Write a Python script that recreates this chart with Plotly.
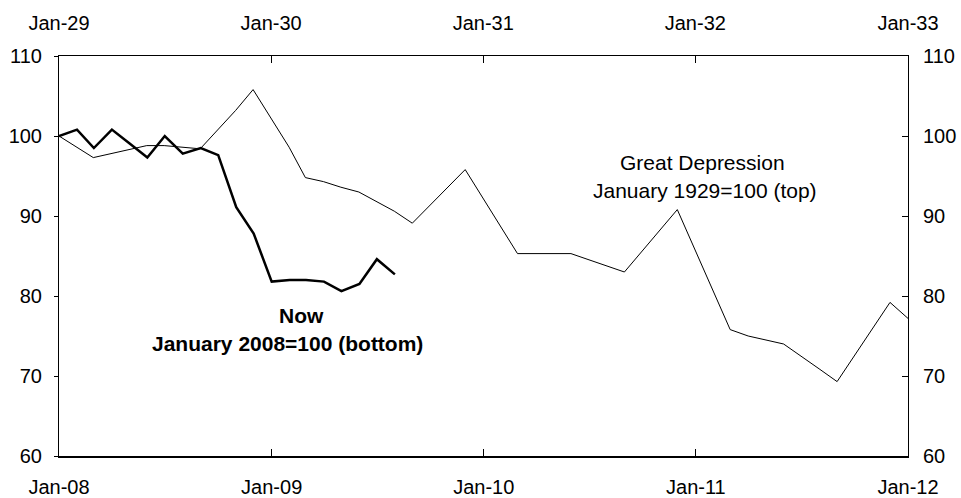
import plotly.graph_objects as go

# Great Depression series (top axis), January 1929 = 100
gd_dates = ["1929-01-01", "1929-03-01", "1929-06-01", "1929-07-01", "1929-09-01",
            "1929-11-01", "1929-12-01", "1930-02-01", "1930-03-01", "1930-04-01",
            "1930-05-01", "1930-06-01", "1930-08-01", "1930-09-01", "1930-12-01",
            "1931-03-01", "1931-06-01", "1931-09-01", "1931-12-01", "1932-02-01",
            "1932-03-01", "1932-04-01", "1932-06-01", "1932-08-01", "1932-09-01",
            "1932-12-01", "1933-01-01"]
gd_values = [100, 97.3, 98.8, 98.8, 98.4,
             103.2, 105.8, 98.6, 94.8, 94.3,
             93.6, 93.0, 90.6, 89.1, 95.8,
             85.3, 85.3, 83.0, 90.8, 80.7,
             75.8, 75.0, 74.0, 70.9, 69.3,
             79.2, 77.2]

# Current series (bottom axis), January 2008 = 100
now_dates = ["2008-01-01", "2008-02-01", "2008-03-01", "2008-04-01", "2008-05-01",
             "2008-06-01", "2008-07-01", "2008-08-01", "2008-09-01", "2008-10-01",
             "2008-11-01", "2008-12-01", "2009-01-01", "2009-02-01", "2009-03-01",
             "2009-04-01", "2009-05-01", "2009-06-01", "2009-07-01", "2009-08-01"]
now_values = [100, 100.8, 98.5, 100.8, 99.1,
              97.3, 100.0, 97.8, 98.5, 97.6,
              91.1, 87.8, 81.8, 82.0, 82.0,
              81.8, 80.6, 81.5, 84.6, 82.7]

bottom_range = ["2008-01-01", "2012-01-01"]
top_range = ["1929-01-01", "1933-01-01"]
y_range = [60, 110]

FONT = "Liberation Sans, Arial, sans-serif"

fig = go.Figure()
fig.add_trace(go.Scatter(x=gd_dates, y=gd_values, xaxis="x2", yaxis="y",
                         mode="lines", line=dict(color="black", width=1),
                         showlegend=False))
fig.add_trace(go.Scatter(x=now_dates, y=now_values, xaxis="x", yaxis="y",
                         mode="lines", line=dict(color="black", width=2.5),
                         showlegend=False))
# invisible trace to activate right-hand axis
fig.add_trace(go.Scatter(x=now_dates[:1], y=now_values[:1], xaxis="x", yaxis="y2",
                         mode="lines", line=dict(width=0), showlegend=False,
                         hoverinfo="skip"))

tickfont = dict(family=FONT, size=20, color="black")
annfont = dict(family=FONT, size=21, color="black")

fig.update_layout(
    width=961, height=498,
    margin=dict(l=59, r=53, t=56, b=42),
    paper_bgcolor="white", plot_bgcolor="white",
    xaxis=dict(type="date", range=bottom_range, dtick="M12", tick0="2008-01-01",
               tickformat="%b-%y", ticks="inside", ticklen=7, tickcolor="black",
               showline=True, linecolor="black", linewidth=1.5,
               showgrid=False, zeroline=False, tickfont=tickfont,
               ticklabelstandoff=12, automargin=False),
    xaxis2=dict(type="date", range=top_range, dtick="M12", tick0="1929-01-01",
                tickformat="%b-%y", ticks="inside", ticklen=7, tickcolor="black",
                overlaying="x", side="top", anchor="y",
                showline=True, linecolor="black", linewidth=1,
                showgrid=False, zeroline=False, tickfont=tickfont,
                ticklabelstandoff=17, automargin=False),
    yaxis=dict(range=y_range, dtick=10, ticks="outside", ticklen=4, tickcolor="black",
               showline=True, linecolor="black", linewidth=1,
               showgrid=False, zeroline=False, tickfont=tickfont,
               ticklabelstandoff=8, automargin=False),
    yaxis2=dict(range=y_range, dtick=10, ticks="inside", ticklen=6, tickcolor="black",
                overlaying="y", side="right", anchor="x",
                showline=True, linecolor="black", linewidth=1,
                showgrid=False, zeroline=False, tickfont=tickfont,
                ticklabelstandoff=10, automargin=False),
    annotations=[
        dict(text="Great Depression", xref="paper", yref="paper", x=0.7585, y=0.7345,
             showarrow=False, font=annfont, xanchor="center", yanchor="middle"),
        dict(text="January 1929=100 (top)", xref="paper", yref="paper", x=0.7605, y=0.6638,
             showarrow=False, font=annfont, xanchor="center", yanchor="middle"),
        dict(text="<b>Now</b>", xref="paper", yref="paper", x=0.286, y=0.351,
             showarrow=False, font=annfont, xanchor="center", yanchor="middle"),
        dict(text="<b>January 2008=100 (bottom)</b>", xref="paper", yref="paper",
             x=0.269, y=0.282,
             showarrow=False, font=annfont, xanchor="center", yanchor="middle"),
    ],
)

fig.write_html("out.html", config={"displayModeBar": False},
               post_script="document.body.style.margin='0';document.body.style.padding='0';")
